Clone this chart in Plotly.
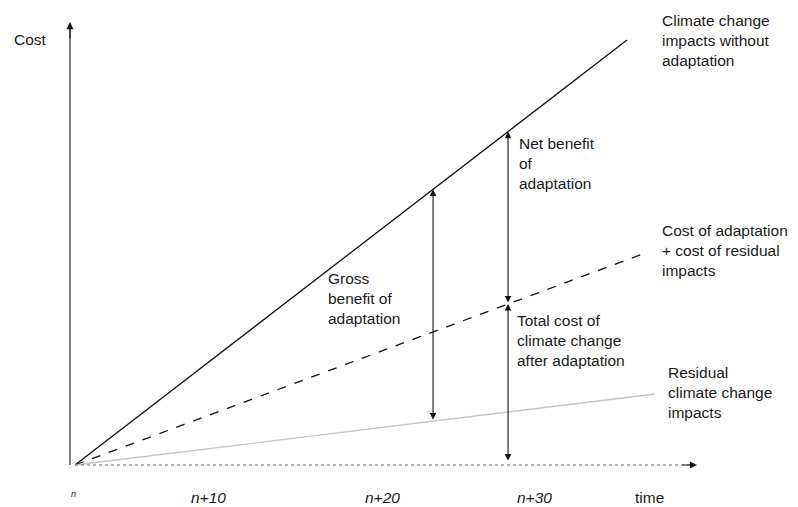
import numpy as np
import plotly.graph_objects as go

# ---- data (abstract units: time in years from n, cost in arbitrary units) ----
t_without = [0, 36.8]
cost_without = [0, 42.5]          # climate change impacts without adaptation
t_adapt = [0, 38.2]
cost_adapt = [0, 21.3]            # cost of adaptation + cost of residual impacts
t_resid = [0, 38.67]
cost_resid = [0, 7.1]             # residual climate change impacts

t_gross = 23.87                   # where gross benefit is measured
t_net = 28.87                     # where net benefit / total cost is measured

tick_labels = ["n", "n+10", "n+20", "n+30", "time"]
tick_pos = [-0.07, 8.93, 20.53, 30.6, 38.33]

# page body has an 8px margin, so the figure is a bit smaller than the window
PAGE_OFF = 8
W, H = 798 - PAGE_OFF, 507 - PAGE_OFF
PX_X, PX_Y = 15.0, 10.0   # pixels per unit
X0PIX, Y0PIX = 75 - PAGE_OFF, 465 - PAGE_OFF

xr = [-X0PIX / PX_X, (W - X0PIX) / PX_X]
yr = [-(H - Y0PIX) / PX_Y, Y0PIX / PX_Y]

fig = go.Figure()
fig.add_trace(go.Scatter(x=t_without, y=cost_without, mode="lines",
                         line=dict(color="#111111", width=1.3), hoverinfo="skip"))
fig.add_trace(go.Scatter(x=t_adapt, y=cost_adapt, mode="lines",
                         line=dict(color="#111111", width=1.3, dash="dash"), hoverinfo="skip"))
fig.add_trace(go.Scatter(x=t_resid, y=cost_resid, mode="lines",
                         line=dict(color="#c4c4c4", width=1.3), hoverinfo="skip"))

def on(tx, ty, t):
    return float(np.interp(t, tx, ty))

ann = []
def darrow(x, y0, y1):
    ann.append(dict(x=x, y=y1, ax=x, ay=y0, xref="x", yref="y", axref="x", ayref="y",
                    text="", showarrow=True, arrowhead=2, startarrowhead=2,
                    arrowside="end+start", arrowsize=1.2, startarrowsize=1.2,
                    arrowwidth=1.1, arrowcolor="#111111", standoff=0, startstandoff=0))

# gross benefit
darrow(t_gross, on(t_resid, cost_resid, t_gross), on(t_without, cost_without, t_gross))
# net benefit
darrow(t_net, on(t_adapt, cost_adapt, t_net), on(t_without, cost_without, t_net))
# total cost after adaptation
darrow(t_net, 0.3, on(t_adapt, cost_adapt, t_net))

# axes
xa_pos = -5 / PX_X
fig.add_shape(type="line", x0=xa_pos, x1=xa_pos, y0=0, y1=43.6,
              line=dict(color="#808080", width=2))
ann.append(dict(x=xa_pos, y=44.3, ax=xa_pos, ay=42.5, xref="x", yref="y", axref="x", ayref="y",
                text="", showarrow=True, arrowhead=2, arrowsize=1.3, arrowwidth=1.1,
                arrowcolor="#111111", standoff=0))
fig.add_shape(type="line", x0=0, x1=41.0, y0=0, y1=0,
              line=dict(color="#666666", width=1, dash="dot"))
ann.append(dict(x=41.47, y=0, ax=40.4, ay=0, xref="x", yref="y", axref="x", ayref="y",
                text="", showarrow=True, arrowhead=2, arrowsize=1.3, arrowwidth=1.1,
                arrowcolor="#111111", standoff=0))

font = dict(family="Liberation Sans, Arial, sans-serif", size=15.5, color="#1a1a1a")

def label(x, y, text):
    ann.append(dict(x=x, y=y, xref="x", yref="y", text=text, showarrow=False,
                    xanchor="left", yanchor="middle", align="left", font=font))

label(-4.2, 42.6, "Cost")
label(39.0, 42.5, "Climate change<br>impacts without<br>adaptation")
label(29.47, 30.2, "Net benefit<br>of<br>adaptation")
label(16.73, 16.7, "Gross<br>benefit of<br>adaptation")
label(39.0, 21.5, "Cost of adaptation<br>+ cost of residual<br>impacts")
label(29.33, 12.5, "Total cost of<br>climate change<br>after adaptation")
label(39.4, 7.3, "Residual<br>climate change<br>impacts")

for lab, pos in zip(tick_labels, tick_pos):
    if lab == "n":
        f = dict(font, size=9)
        txt = "<i>n</i>"
        yy = -2.9
    elif lab == "time":
        f = font
        txt = lab
        yy = -3.2
    else:
        f = font
        txt = "<i>" + lab + "</i>"
        yy = -3.2
    ann.append(dict(x=pos, y=yy, xref="x", yref="y", text=txt, showarrow=False,
                    xanchor="center", yanchor="middle", font=f))

fig.update_layout(
    width=W, height=H, margin=dict(l=0, r=0, t=0, b=0),
    plot_bgcolor="white", paper_bgcolor="white", showlegend=False,
    xaxis=dict(range=xr, visible=False, fixedrange=True),
    yaxis=dict(range=yr, visible=False, fixedrange=True),
    annotations=ann,
)
fig.write_html("out.html")
